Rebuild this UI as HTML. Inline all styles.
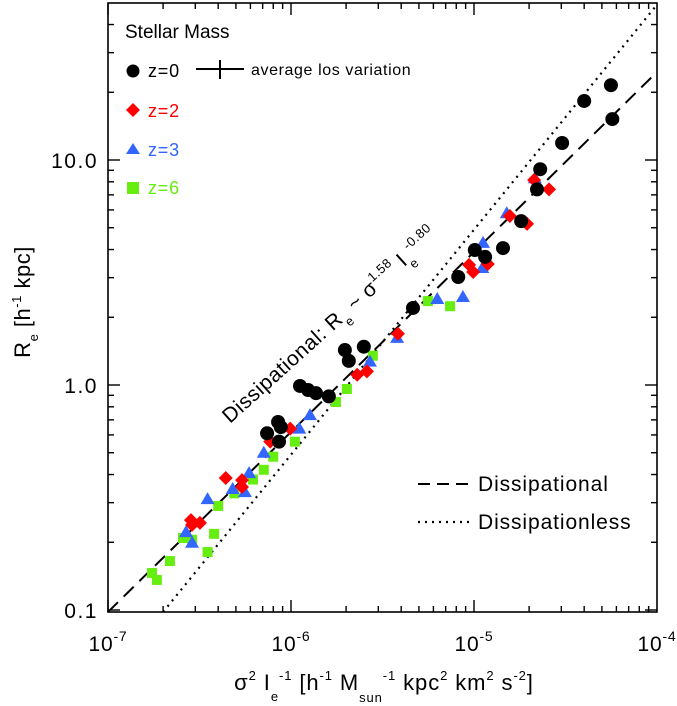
<!DOCTYPE html>
<html><head><meta charset="utf-8"><style>
html,body{margin:0;padding:0;background:#fff;}
svg{display:block;font-family:"Liberation Sans",Arial,sans-serif;}
</style></head><body>
<svg id="chart" width="677" height="706" viewBox="0 0 677 706" xmlns="http://www.w3.org/2000/svg">
<g id="marks"></g>
<g id="axes"></g>
<text transform="translate(230,424) rotate(-42)" font-size="21" letter-spacing="0.5" fill="#000">Dissipational: R<tspan font-size="13" dy="8">e</tspan><tspan dy="-8"> ~ σ</tspan><tspan font-size="13" dy="-10">1.58</tspan><tspan dy="10"> I</tspan><tspan font-size="13" dy="8">e</tspan><tspan font-size="13" dy="-18">-0.80</tspan></text>
<g>
<text x="125" y="38" font-size="19">Stellar Mass</text>
<circle cx="133" cy="71" r="6.5" fill="#000"/>
<text x="148" y="77" font-size="18" letter-spacing="0.8">z=0</text>
<line x1="196" y1="69" x2="244" y2="69" stroke="#000" stroke-width="2"/>
<line x1="220" y1="60" x2="220" y2="79" stroke="#000" stroke-width="2"/>
<text x="251" y="75" font-size="16" letter-spacing="0.6">average los variation</text>
<path d="M133,103 L140,110 L133,117 L126,110 Z" fill="#ff0000"/>
<text x="148" y="117" font-size="18" letter-spacing="0.8" fill="#ff0000">z=2</text>
<path d="M133,143 L140,154 L126,154 Z" fill="#3366ff"/>
<text x="148" y="156" font-size="18" letter-spacing="0.8" fill="#3366ff">z=3</text>
<rect x="127" y="182" width="12" height="12" fill="#66ee11"/>
<text x="148" y="194" font-size="18" letter-spacing="0.8" fill="#66ee11">z=6</text>
</g>
<g>
<line x1="418" y1="484" x2="470" y2="484" stroke="#000" stroke-width="2" stroke-dasharray="12,7"/>
<text x="478" y="491" font-size="21" letter-spacing="0.9">Dissipational</text>
<line x1="418" y1="522" x2="470" y2="522" stroke="#000" stroke-width="2.2" stroke-dasharray="2,5"/>
<text x="478" y="529" font-size="21" letter-spacing="0.9">Dissipationless</text>
</g>
<text transform="translate(30,302) rotate(-90)" font-size="22" letter-spacing="0.5" text-anchor="middle">R<tspan font-size="13" dy="8">e</tspan><tspan dy="-8"> [h</tspan><tspan font-size="13" dy="-9">-1</tspan><tspan dy="9"> kpc]</tspan></text>
<text x="384" y="690" font-size="22" letter-spacing="0.9" text-anchor="middle">σ<tspan font-size="13" dy="-10">2</tspan><tspan dy="10"> I</tspan><tspan font-size="13" dy="11">e</tspan><tspan font-size="13" dy="-21">-1</tspan><tspan dy="10"> [h</tspan><tspan font-size="13" dy="-10">-1</tspan><tspan dy="10"> M</tspan><tspan font-size="13" dy="12">sun</tspan><tspan font-size="13" dy="-22">-1</tspan><tspan dy="10"> kpc</tspan><tspan font-size="13" dy="-10">2</tspan><tspan dy="10"> km</tspan><tspan font-size="13" dy="-10">2</tspan><tspan dy="10"> s</tspan><tspan font-size="13" dy="-10">-2</tspan><tspan dy="10">]</tspan></text>
</svg>
<script>
const z0X=[5.6e-5,4.0e-5,5.7e-5,3.03e-5,2.3e-5,2.21e-5,1.81e-5,1.44e-5,1.01e-5,1.15e-5,8.2e-6,4.64e-6,2.5e-6,1.97e-6,2.07e-6,1.12e-6,1.24e-6,1.37e-6,1.61e-6,7.4e-7,8.5e-7,8.8e-7,8.6e-7];
const z0Y=[21.5,18.3,15.2,11.9,9.1,7.4,5.35,4.06,3.98,3.71,3.02,2.2,1.48,1.43,1.28,0.99,0.95,0.92,0.89,0.61,0.685,0.65,0.56];
const z2X=[2.13e-5,2.57e-5,1.57e-5,1.95e-5,9.4e-6,9.9e-6,1.19e-5,3.84e-6,2.3e-6,2.6e-6,9.9e-7,7.7e-7,4.4e-7,5.4e-7,5.4e-7,2.84e-7,3.18e-7,2.88e-7];
const z2Y=[8.15,7.4,5.64,5.2,3.42,3.18,3.45,1.69,1.11,1.15,0.64,0.56,0.386,0.378,0.352,0.251,0.244,0.239];
const z3X=[2.15e-5,1.51e-5,1.12e-5,1.11e-5,6.3e-6,8.7e-6,3.8e-6,2.7e-6,1.27e-6,1.11e-6,7.1e-7,5.9e-7,4.8e-7,5.6e-7,3.5e-7,2.67e-7,2.88e-7];
const z3Y=[8.3,5.8,4.28,3.31,2.41,2.46,1.62,1.27,0.735,0.64,0.5,0.406,0.345,0.334,0.311,0.222,0.199];
const z6X=[5.6e-6,7.4e-6,2.8e-6,2.02e-6,1.76e-6,1.05e-6,8.0e-7,7.1e-7,6.2e-7,4.9e-7,4.0e-7,3.8e-7,2.57e-7,2.88e-7,3.5e-7,2.18e-7,1.74e-7,1.85e-7];
const z6Y=[2.36,2.24,1.35,0.96,0.84,0.56,0.48,0.42,0.38,0.33,0.29,0.218,0.209,0.205,0.181,0.165,0.146,0.136];
const xTickExps=[-7,-6,-5,-4];
const yTickVals=[0.1,1.0,10.0];
const yTickLabels=["0.1","1.0","10.0"];
const dissipNorm=0.098, dissipSlope=0.80;
const dissLessNorm=0.098, dissLessX0=2e-7, dissLessSlope=1.0;

const L=108,R=657,T=3,B=612;
const NS="http://www.w3.org/2000/svg";
function sx(v){return L+(Math.log10(v)+7)*183;}
function sy(v){return 385-Math.log10(v)*225;}
function mk(tag,attrs,parent){const e=document.createElementNS(NS,tag);for(const k in attrs)e.setAttribute(k,attrs[k]);parent.appendChild(e);return e;}
const marks=document.getElementById('marks');
const axes=document.getElementById('axes');

const defs=mk('defs',{},marks);
const cp=mk('clipPath',{id:'clip'},defs);
mk('rect',{x:L,y:T,width:R-L,height:B-T},cp);
const lg=mk('g',{'clip-path':'url(#clip)'},marks);
let p1x=1e-7,p2x=1e-4;
const dl=mk('line',{x1:sx(p1x),y1:sy(dissipNorm),x2:sx(p2x),y2:sy(dissipNorm*Math.pow(p2x/p1x,dissipSlope)),stroke:'#000','stroke-width':2,'stroke-dasharray':'14,8'},lg);


const ol=mk('line',{x1:sx(dissLessX0),y1:sy(dissLessNorm),x2:sx(p2x),y2:sy(dissLessNorm*Math.pow(p2x/dissLessX0,dissLessSlope)),stroke:'#000','stroke-width':2.2,'stroke-dasharray':'2,5'},lg);



z6X.forEach((v,i)=>{const e=mk('rect',{x:sx(v)-5,y:sy(z6Y[i])-5,width:10,height:10,fill:'#66ee11'},marks);

});
z3X.forEach((v,i)=>{const x=sx(v),y=sy(z3Y[i]);const e=mk('path',{d:`M${x},${y-7} L${x+7},${y+5} L${x-7},${y+5} Z`,fill:'#3366ff'},marks);

});
z2X.forEach((v,i)=>{const x=sx(v),y=sy(z2Y[i]);const e=mk('path',{d:`M${x},${y-7} L${x+7},${y} L${x},${y+7} L${x-7},${y} Z`,fill:'#ff0000'},marks);

});
z0X.forEach((v,i)=>{const e=mk('circle',{cx:sx(v),cy:sy(z0Y[i]),r:7,fill:'#000'},marks);

});

const fr=mk('rect',{x:L,y:T,width:R-L,height:B-T,fill:'none',stroke:'#000','stroke-width':1.6},axes);


for(let d=-7;d<-4;d++){for(let m=1;m<10;m++){const x=sx(m*Math.pow(10,d));const len=m===1?12:6;
mk('line',{x1:x,y1:B,x2:x,y2:B-len,stroke:'#000','stroke-width':1.4},axes);
mk('line',{x1:x,y1:T,x2:x,y2:T+len,stroke:'#000','stroke-width':1.4},axes);}}
xTickExps.forEach(e=>{const t=mk('text',{x:sx(Math.pow(10,e)),y:651,'font-size':21,'letter-spacing':'0.8','text-anchor':'middle'},axes);


t.innerHTML=`10<tspan font-size="14" dy="-10">${e}</tspan>`;});
for(let d=-1;d<2;d++){for(let m=1;m<10;m++){const v=m*Math.pow(10,d);const y=sy(v);if(y<T)continue;const len=m===1?12:6;
mk('line',{x1:L,y1:y,x2:L+len,y2:y,stroke:'#000','stroke-width':1.4},axes);
mk('line',{x1:R,y1:y,x2:R-len,y2:y,stroke:'#000','stroke-width':1.4},axes);}}
yTickVals.forEach((v,i)=>{const t=mk('text',{x:98,y:sy(v)+8,'font-size':21,'letter-spacing':'1.5','text-anchor':'end'},axes);


t.textContent=yTickLabels[i];});
</script>
</body></html>
